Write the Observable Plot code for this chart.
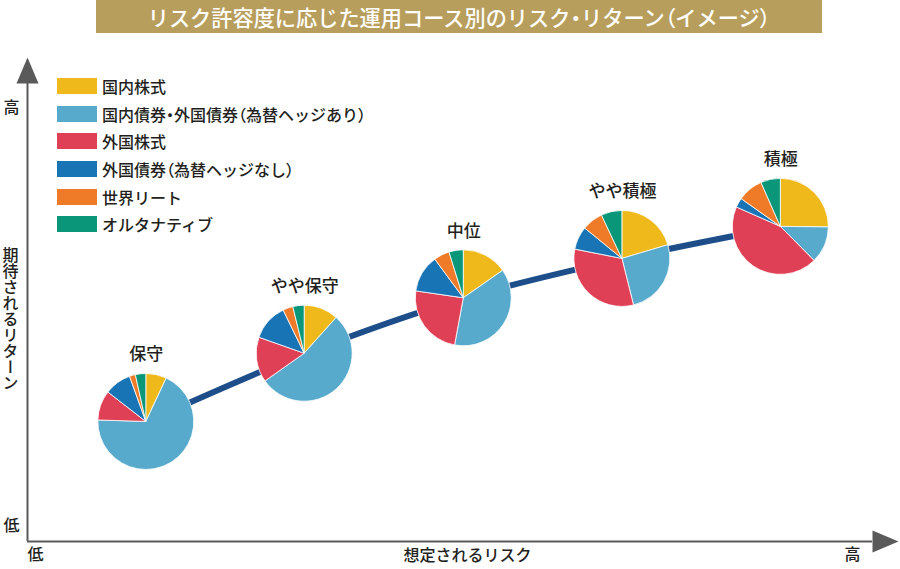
<!DOCTYPE html>
<html><head><meta charset="utf-8">
<script src="https://cdn.jsdelivr.net/npm/d3@7"></script>
<script src="https://cdn.jsdelivr.net/npm/@observablehq/plot@0.6"></script>
<style>
html,body{margin:0;padding:0;background:#fff;}
body{width:900px;height:569px;position:relative;overflow:hidden;font-family:"Noto Sans CJK JP","Noto Sans",sans-serif;}
#title{position:absolute;left:96px;top:0;width:726px;height:33px;background:#b89e5c;color:#fff;font-size:21.2px;font-weight:500;line-height:33px;text-align:center;white-space:nowrap;}
.p{font-feature-settings:"palt";}
#chart{position:absolute;left:0;top:35px;}
#legend{position:absolute;left:57px;top:78px;}
.row{display:flex;align-items:center;height:16px;margin-bottom:11.7px;}
.sw{width:40px;height:16px;margin-right:5px;flex:none;}
.lb{font-size:16px;font-weight:500;color:#231f20;line-height:16px;white-space:nowrap;}
</style></head>
<body>
<div id="title"></div>
<div id="chart"></div>
<div id="legend"></div>
<script>
// ---- data ----
const titleText = "リスク許容度に応じた運用コース別のリスク・リターン（イメージ）";
const categories = ["国内株式", "国内債券・外国債券（為替ヘッジあり）", "外国株式", "外国債券（為替ヘッジなし）", "世界リート", "オルタナティブ"];
const colors = ["#f0b91b", "#58aacd", "#e04055", "#1874b4", "#ef7a27", "#0a9679"];
const courseNames = ["保守", "やや保守", "中位", "やや積極", "積極"];
const risk = [14.06, 32.8, 51.63, 70.4, 89.15];      // 想定されるリスク (0–100 scale)
const expReturn = [26.1, 41.0, 53.1, 61.7, 68.7];   // 期待されるリターン (0–100 scale)
const allocConservative = [7, 68.5, 10, 9, 2, 3.5];
const allocModCons = [11.6, 53.6, 15.2, 12.4, 3.4, 3.8];
const allocMiddle = [15.3, 37.6, 24.4, 12.6, 5.3, 4.8];
const allocModAggr = [20.4, 25.7, 32, 7.8, 7.1, 7];
const allocAggressive = [25.2, 12.4, 44, 3.2, 8.6, 6.6];
const allocations = [allocConservative, allocModCons, allocMiddle, allocModAggr, allocAggressive];
const xAxisLabels = ["低", "想定されるリスク", "高"];
const yAxisLabels = ["低", "期待されるリターン", "高"];

const courses = courseNames.map((name, i) => ({name, risk: risk[i], ret: expReturn[i], alloc: allocations[i]}));

// ---- styles ----
const axisColor = "#5a5a5a";
const lineColor = "#1d4e89";
const textColor = "#231f20";
const pieR = 48;

// narrow punctuation like the reference typesetting
function setJa(sel, text) {
  text.split(/([・（）])/).forEach(part => {
    if (!part) return;
    if (/^[・（）]$/.test(part)) sel.append("span").attr("class", "p").text(part);
    else sel.append("span").text(part);
  });
}
setJa(d3.select("#title"), titleText);

const arrowHead = {draw(ctx) { ctx.moveTo(0, -26); ctx.lineTo(11, 0); ctx.lineTo(-11, 0); ctx.closePath(); }};
const lbl = {textAnchor: "middle", fill: textColor, fontWeight: 500};

const plot = Plot.plot({
  width: 900,
  height: 534,
  marginLeft: 27,
  marginRight: 28,
  marginTop: 48,
  marginBottom: 28,
  x: {domain: [0, 100], axis: null},
  y: {domain: [0, 100], axis: null},
  style: {fontFamily: "'Noto Sans CJK JP', 'Noto Sans', sans-serif", background: "#fff", color: textColor, overflow: "visible"},
  marks: [
    Plot.ruleY([0], {x1: 0, x2: 100, stroke: axisColor, strokeWidth: 2}),
    Plot.ruleX([0], {y1: 0, y2: 100, stroke: axisColor, strokeWidth: 2}),
    Plot.dot([0], {x: 0, y: 100, symbol: arrowHead, fill: axisColor, stroke: "none"}),
    Plot.dot([0], {x: 100, y: 0, symbol: arrowHead, fill: axisColor, stroke: "none", rotate: 90}),
    Plot.line(courses, {x: "risk", y: "ret", curve: "catmull-rom", stroke: lineColor, strokeWidth: 6}),
    Plot.dot(courses, {x: "risk", y: "ret", render(index, scales, values) {
      const g = d3.create("svg:g");
      const pie = d3.pie().sort(null).value(d => d);
      const arc = d3.arc().innerRadius(0).outerRadius(pieR);
      for (const i of index) {
        g.append("g")
          .attr("transform", `translate(${values.x[i]},${values.y[i]})`)
          .selectAll("path").data(pie(courses[i].alloc)).join("path")
          .attr("d", arc)
          .attr("fill", (d, j) => colors[j])
          .attr("stroke", "#fff").attr("stroke-width", 0.8).attr("stroke-linejoin", "round");
      }
      return g.node();
    }}),
    Plot.text(courses, {x: "risk", y: "ret", text: "name", dy: -67, fontSize: 17, ...lbl}),
    // axis end labels
    Plot.text([xAxisLabels[0]], {text: d => d, frameAnchor: "bottom-left", dx: 8, dy: 18, fontSize: 16, ...lbl}),
    Plot.text([xAxisLabels[1]], {text: d => d, frameAnchor: "bottom", dx: 17.5, dy: 19, fontSize: 16, ...lbl}),
    Plot.text([xAxisLabels[2]], {text: d => d, frameAnchor: "bottom-right", dx: -20, dy: 18, fontSize: 16, ...lbl}),
    Plot.text([yAxisLabels[0]], {text: d => d, frameAnchor: "bottom-left", dx: -16, dy: -11, fontSize: 16, ...lbl}),
    Plot.text([yAxisLabels[2]], {text: d => d, frameAnchor: "top-left", dx: -16, dy: 18, fontSize: 16, ...lbl}),
    Plot.text([yAxisLabels[1]], {text: d => d, frameAnchor: "left", dx: -17, dy: 1, fontSize: 16, ...lbl,
      render(i, s, v, d, c, next) {
        const g = next(i, s, v, d, c);
        d3.select(g).selectAll("text").style("writing-mode", "vertical-rl").attr("dy", null);
        return g;
      }})
  ]
});
document.getElementById("chart").appendChild(plot);

// legend
const legend = d3.select("#legend");
categories.forEach((c, i) => {
  const row = legend.append("div").attr("class", "row");
  row.append("div").attr("class", "sw").style("background", colors[i]);
  setJa(row.append("div").attr("class", "lb"), c);
});
</script>
</body></html>
